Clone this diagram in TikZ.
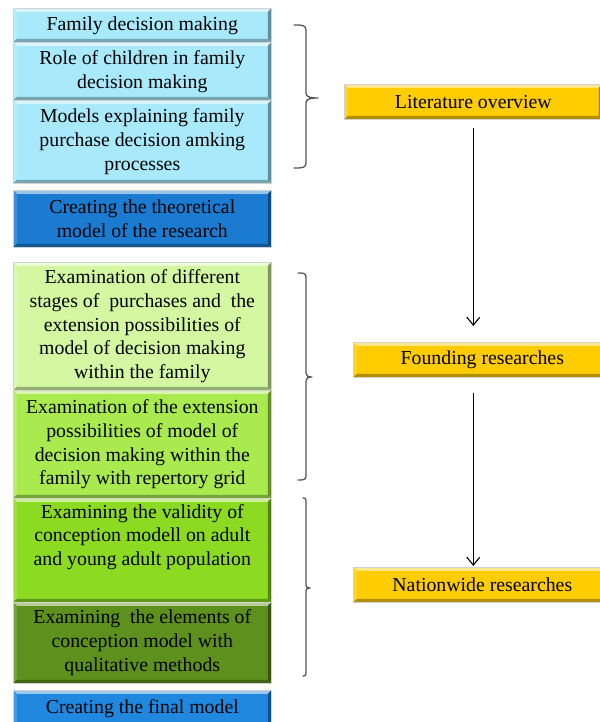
\documentclass[tikz,border=0pt]{standalone}
\usepackage{fontspec}
\setmainfont{Liberation Serif}
\newfontfamily\tnrfont{Liberation Serif}
\usetikzlibrary{arrows.meta,calc}
\definecolor{cyanL}{HTML}{A8EAFB}
\definecolor{blueD}{HTML}{1A7BD1}
\definecolor{blueF}{HTML}{2088DE}
\definecolor{greenA}{HTML}{D4F8A2}
\definecolor{greenB}{HTML}{A9EA4F}
\definecolor{greenC}{HTML}{8CDB22}
\definecolor{greenD}{HTML}{5E901D}
\definecolor{goldA}{HTML}{FFCC00}
\definecolor{braceC}{HTML}{555555}
\def\bw{3.5bp}
\tikzset{
  bevel/.style={path picture={
    \path (path picture bounding box.north west) coordinate (bvnw)
          (path picture bounding box.north east) coordinate (bvne)
          (path picture bounding box.south west) coordinate (bvsw)
          (path picture bounding box.south east) coordinate (bvse);
    \fill[#1!45!white] (bvnw) -- (bvne) -- ([shift={(-\bw,-\bw)}]bvne) -- ([shift={(\bw,-\bw)}]bvnw) -- cycle;
    \fill[#1!85!white] (bvnw) -- (bvsw) -- ([shift={(\bw,\bw)}]bvsw) -- ([shift={(\bw,-\bw)}]bvnw) -- cycle;
    \fill[#1!60!black] (bvne) -- (bvse) -- ([shift={(-\bw,\bw)}]bvse) -- ([shift={(-\bw,-\bw)}]bvne) -- cycle;
    \fill[#1!70!black] (bvsw) -- (bvse) -- ([shift={(-\bw,\bw)}]bvse) -- ([shift={(\bw,\bw)}]bvsw) -- cycle;
  }},
  box/.style={fill=#1, bevel=#1, draw=gray!35, line width=0.6bp, anchor=north west,
    minimum width=258bp, inner sep=0pt, align=center, text=black,
    font=\tnrfont\fontsize{19.8bp}{23.8bp}\selectfont},
  arr/.style={draw=black, line width=1.1bp, -{Straight Barb[length=8bp,width=13bp,line width=1.1bp]}},
  brace/.style={draw=braceC, line width=1.3bp, line cap=round, line join=round}
}
\begin{document}
\begin{tikzpicture}[x=1bp,y=-1bp]
\fill[white] (0,0) rectangle (600,722);
\useasboundingbox (0,0) rectangle (600,722);
% left column
\node[box=cyanL, minimum height=34bp] (b1) at (13,8) {Family decision making};
\node[box=cyanL, minimum height=58bp] (b2) at (13,42) {Role of children in family\\decision making};
\node[box=cyanL, minimum height=83bp] (b3) at (13,100) {Models explaining family\\purchase decision amking\\processes};
\node[box=blueD, minimum height=57bp] (b4) at (13,190) {Creating the theoretical\\model of the research};
\node[box=greenA, minimum height=128bp] (g1) at (13,262) {Examination of different\\stages of\ \ purchases and\ \ the\\extension possibilities of\\model of decision making\\within the family};
\node[box=greenB, minimum height=108bp] (g2) at (13,390) {Examination of the extension\\possibilities of model of\\decision making within the\\family with repertory grid};
\node[box=greenC, minimum height=104bp] (g3) at (13,498) {Examining the validity of\\conception modell on adult\\and young adult population\\\strut};
\node[box=greenD, minimum height=81bp] (g4) at (13,602) {Examining\ \ the elements of\\conception model with\\qualitative methods};
\node[box=blueF, minimum height=36bp] (fin) at (13,690) {Creating the final model};
% right column
\node[box=goldA, minimum height=35bp] (lit) at (344,84) {Literature overview};
\node[box=goldA, minimum height=35bp] (found) at (353,342) {Founding researches};
\node[box=goldA, minimum height=35bp] (nat) at (353,567) {Nationwide researches};
% arrows
\draw[arr] ([yshift=-8bp]lit.south) -- ([yshift=16bp]lit.south |- found.north);
\draw[arr] ([yshift=-15bp]lit.south |- found.south) -- ([yshift=1bp]lit.south |- nat.north);
% braces
\draw[brace] (294,25) .. controls (302,25) and (306,25) .. (306,30) -- (306,93)
  .. controls (306,97) and (310,98) .. (318,98)
  .. controls (310,98) and (306,99) .. (306,103) -- (306,163)
  .. controls (306,168) and (302,168) .. (294,168);
\draw[brace] (298,273) .. controls (303,273) and (306,273) .. (306,277) -- (306,373)
  .. controls (306,376) and (308,377) .. (312,377)
  .. controls (308,377) and (306,378) .. (306,381) -- (306,476)
  .. controls (306,480) and (303,480) .. (298,480);
\draw[brace] (303,498) .. controls (305,498) and (306,498) .. (306,501) -- (306,585)
  .. controls (306,587) and (307,588) .. (310,588)
  .. controls (307,588) and (306,589) .. (306,591) -- (306,673)
  .. controls (306,676) and (305,676) .. (303,676);
\end{tikzpicture}
\end{document}
